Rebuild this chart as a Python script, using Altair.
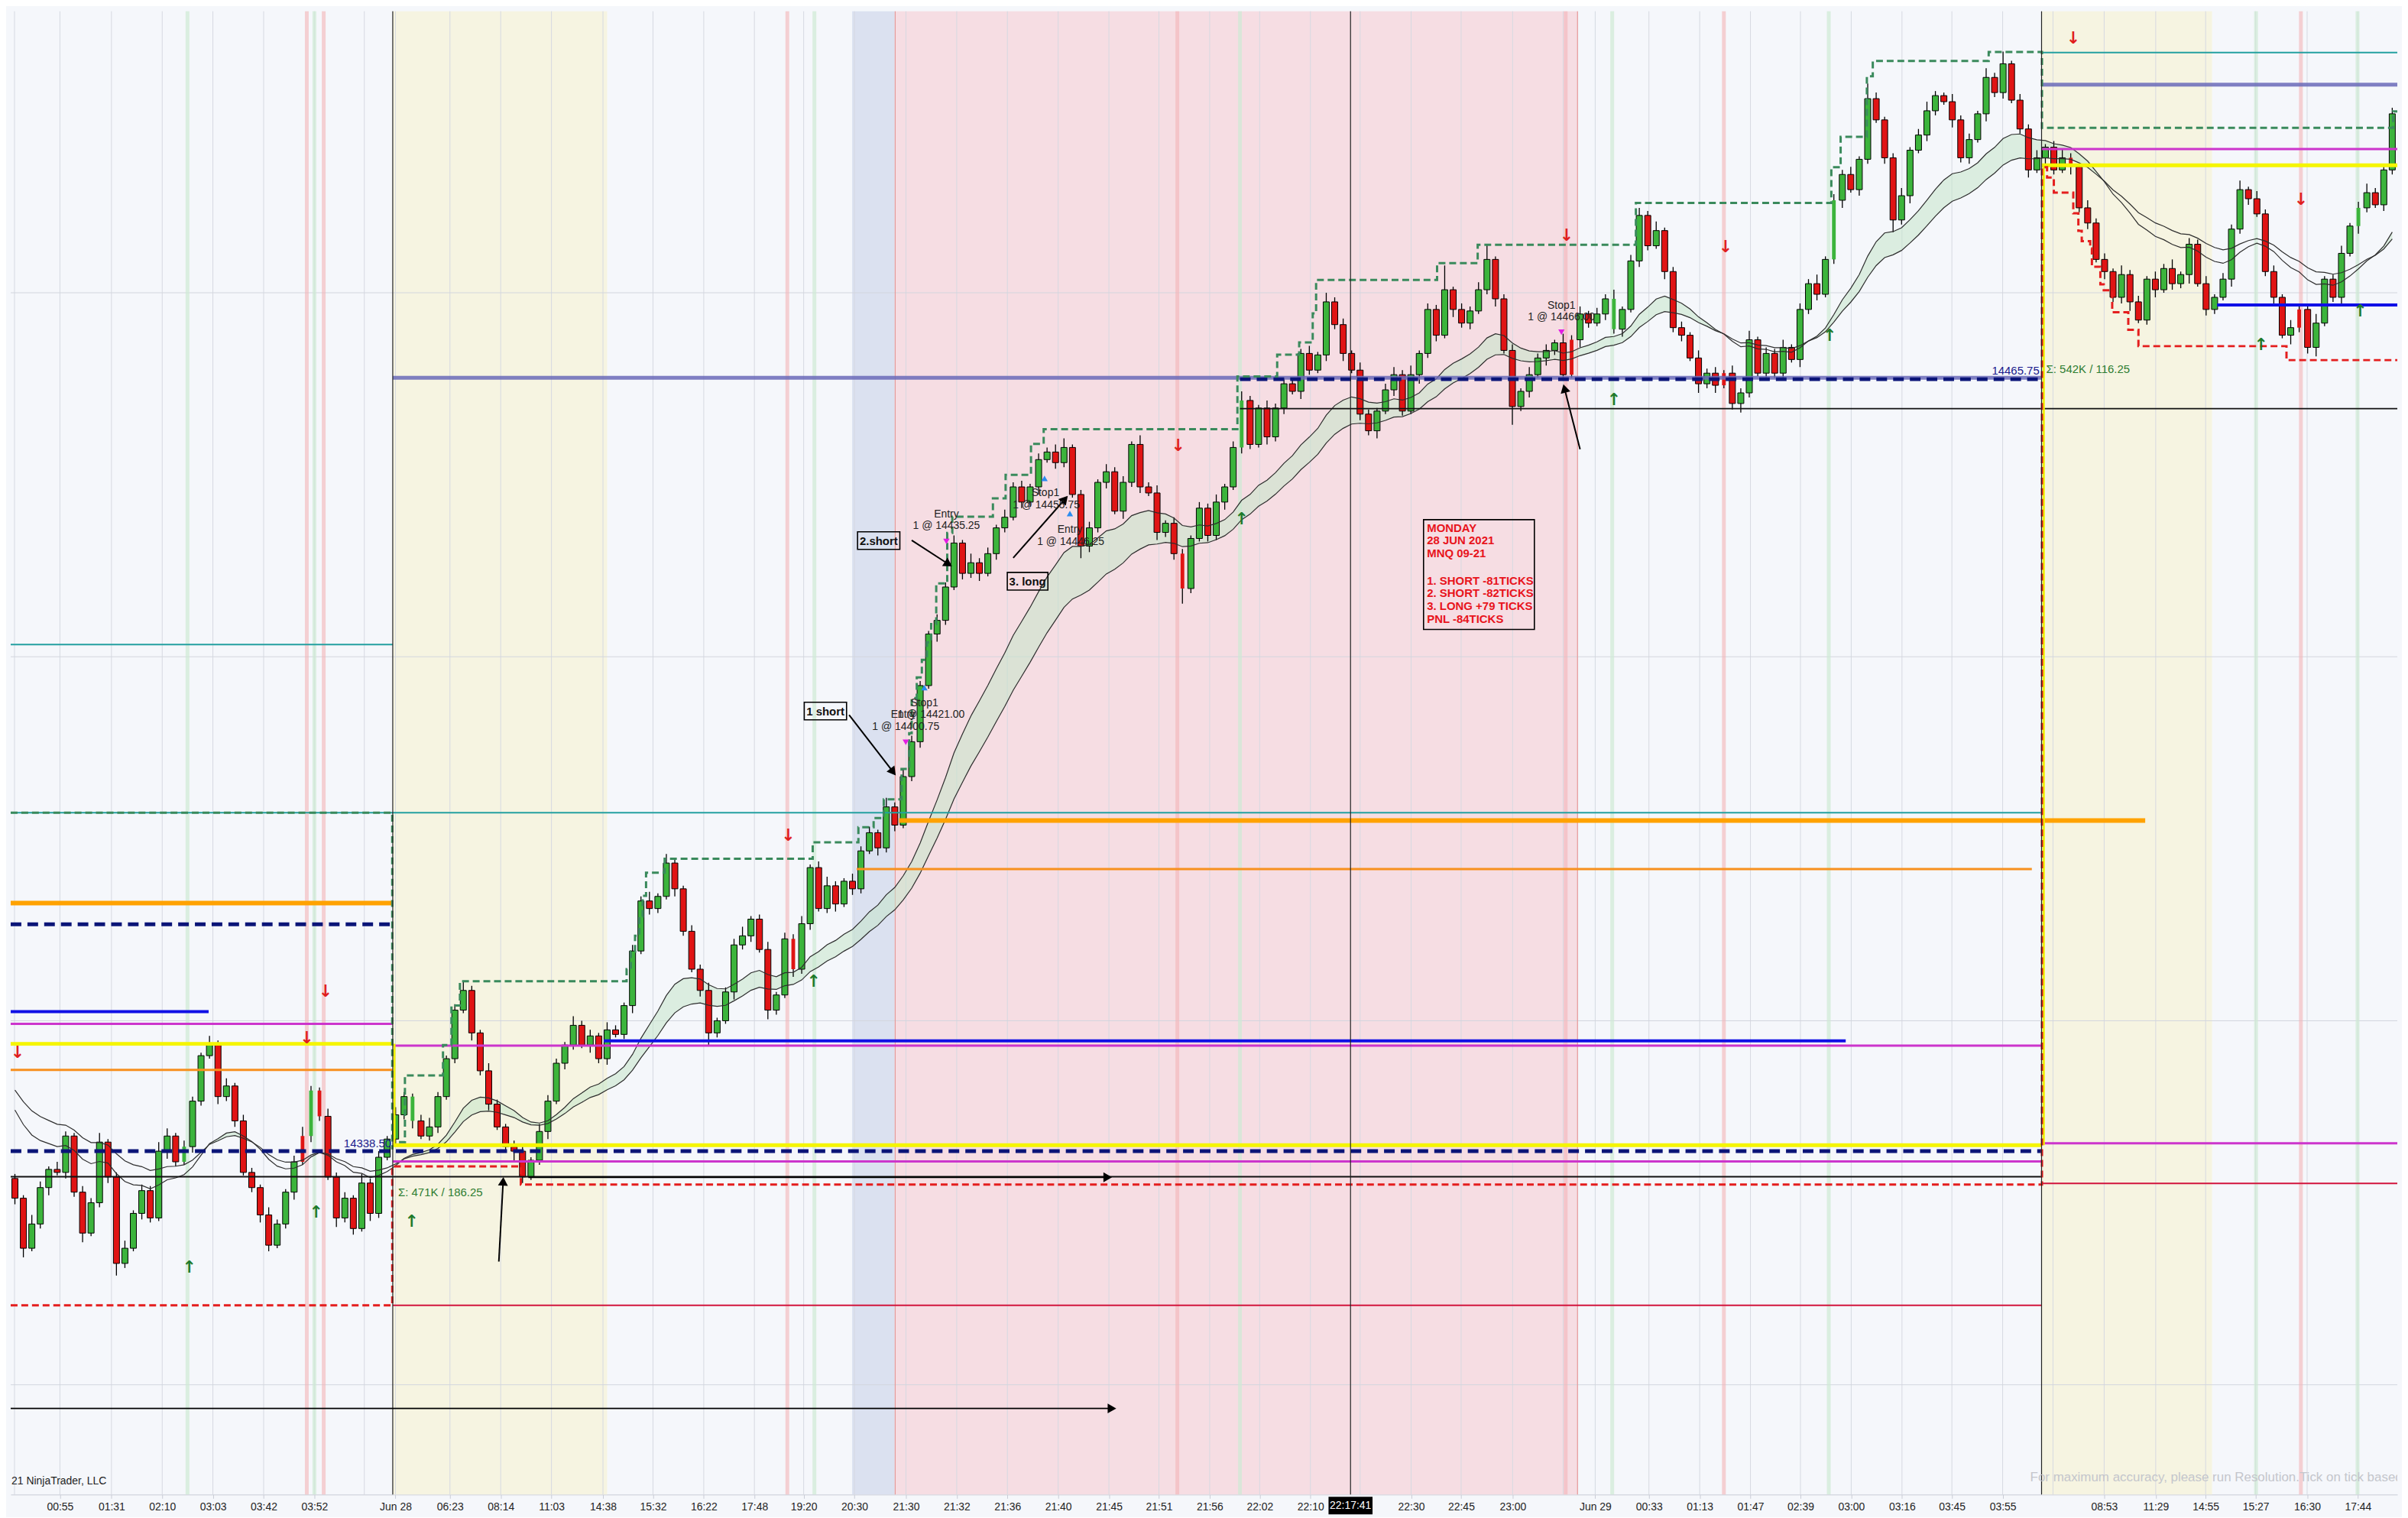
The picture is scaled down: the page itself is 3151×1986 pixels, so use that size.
import math

import altair as alt
import pandas as pd

# ---------------- MNQ 09-21 range bars, closes ----------------
CLOSE = [
    14330.75, 14322.5, 14326.5, 14332.5, 14335.5, 14335.0, 14341.0, 14331.75, 14325.0, 14330.0,
    14340.0, 14334.25, 14320.0, 14322.5, 14328.25, 14332.0, 14327.5, 14338.5, 14341.0, 14336.75,
    14339.25, 14346.75, 14354.25, 14356.0, 14347.5, 14349.25, 14343.5, 14335.0, 14332.5, 14328.0,
    14323.0, 14326.5, 14331.75, 14336.75, 14341.0, 14348.5, 14344.25, 14334.25, 14327.5, 14330.75,
    14325.75, 14333.25, 14328.25, 14337.5, 14340.5, 14344.5, 14347.5, 14343.5, 14341.0, 14342.5,
    14347.5, 14353.75, 14361.75, 14365.0, 14358.0, 14351.75, 14346.25, 14342.5, 14339.25, 14338.5,
    14334.25, 14337.0, 14341.75, 14346.75, 14353.0, 14356.0, 14359.25, 14356.0, 14357.5, 14353.75,
    14358.5, 14357.75, 14362.5, 14371.5, 14379.75, 14378.5, 14380.5, 14386.0, 14381.75, 14374.75,
    14368.5, 14365.0, 14358.0, 14360.0, 14364.75, 14372.5, 14374.0, 14376.75, 14371.75, 14361.75,
    14364.25, 14373.5, 14368.5, 14376.0, 14385.25, 14378.5, 14382.25, 14379.25, 14383.0, 14381.75,
    14388.0, 14391.0, 14388.5, 14395.25, 14392.25, 14400.25, 14406.0, 14415.25, 14423.75, 14426.0,
    14431.5, 14438.75, 14433.75, 14435.5, 14433.75, 14437.0, 14441.25, 14443.0, 14448.0, 14445.5,
    14448.0, 14452.5, 14453.75, 14452.0, 14454.5, 14446.75, 14438.25, 14441.25, 14448.75, 14450.5,
    14444.0, 14448.75, 14455.0, 14448.0, 14447.0, 14440.5, 14442.0, 14437.0, 14431.25, 14439.5,
    14444.5, 14440.0, 14445.5, 14448.0, 14454.5, 14462.25, 14455.0, 14461.0, 14456.25, 14461.0,
    14465.0, 14463.75, 14470.0, 14467.25, 14469.75, 14478.5, 14474.75, 14470.0, 14467.25, 14460.0,
    14457.25, 14460.5, 14464.0, 14466.5, 14460.5, 14466.5, 14470.0, 14477.25, 14473.0, 14480.5,
    14477.25, 14475.0, 14477.0, 14480.5, 14485.5, 14479.0, 14470.5, 14461.25, 14463.75, 14466.5,
    14469.25, 14470.5, 14471.75, 14466.5, 14472.25, 14476.5, 14475.0, 14476.5, 14479.0, 14474.0,
    14477.25, 14485.25, 14492.75, 14487.75, 14490.25, 14483.5, 14474.25, 14473.0, 14469.25, 14465.0,
    14466.75, 14464.75, 14466.75, 14461.75, 14463.5, 14472.25, 14466.75, 14470.0, 14466.75, 14471.0,
    14469.0, 14477.25, 14481.5, 14479.75, 14485.5, 14495.25, 14499.5, 14497.0, 14502.0, 14512.0,
    14508.5, 14502.25, 14492.0, 14496.0, 14503.5, 14506.0, 14510.0, 14512.5, 14511.5, 14508.5,
    14502.25, 14505.25, 14509.5, 14515.5, 14513.0, 14517.75, 14511.75, 14507.0, 14500.25, 14502.25,
    14504.0, 14500.25, 14502.25, 14500.75, 14494.0, 14491.5, 14485.5, 14483.5, 14479.25, 14483.0,
    14478.5, 14475.5, 14482.25, 14480.5, 14484.0, 14481.5, 14483.0, 14488.0, 14481.5, 14477.25,
    14479.25, 14482.25, 14490.5, 14497.0, 14495.5, 14493.0, 14483.5, 14479.25, 14473.0, 14474.25,
    14477.25, 14471.0, 14475.0, 14482.25, 14479.25, 14486.5, 14491.0, 14494.0, 14496.5, 14494.5,
    14500.25, 14509.5,
]
FIRST_OPEN = 14334.0
# wick length beyond the body, in ticks (0.25)
WICK_UP = [
    3, 2, 6, 4, 2, 5, 3, 2, 4, 3, 6, 2, 3, 5, 2, 4, 3, 6, 5, 2,
    4, 3, 2, 6, 3, 5, 2, 4, 3, 2, 5, 3, 2, 4, 6, 3, 2, 5, 3, 4,
    2, 6, 3, 4, 2, 5, 3, 2, 4, 6, 3, 2, 4, 6, 3, 2, 5, 3, 2, 4,
    3, 2, 5, 4, 3, 2, 6, 3, 4, 2, 5, 3, 2, 4, 3, 6, 2, 6, 3, 2,
    4, 3, 5, 2, 3, 4, 6, 2, 3, 5, 2, 4, 3, 5, 2, 4, 6, 3, 2, 5,
    3, 4, 2, 6, 3, 5, 4, 3, 2, 4, 3, 5, 2, 6, 3, 4, 2, 5, 3, 4,
    2, 4, 3, 5, 6, 2, 3, 4, 2, 5, 3, 4, 2, 6, 3, 5, 2, 4, 3, 2,
    4, 3, 5, 2, 4, 6, 3, 2, 5, 3, 4, 2, 3, 5, 2, 6, 3, 4, 2, 5,
    3, 2, 4, 5, 3, 6, 2, 4, 3, 16, 2, 4, 3, 5, 10, 2, 3, 4, 2, 5,
    3, 4, 2, 6, 3, 5, 2, 4, 3, 6, 2, 4, 5, 3, 6, 2, 3, 4, 2, 5,
    3, 4, 2, 5, 3, 6, 2, 4, 3, 5, 2, 4, 3, 6, 2, 4, 3, 5, 2, 10,
    4, 2, 3, 5, 2, 4, 6, 3, 2, 5, 3, 4, 2, 6, 3, 8, 2, 4, 3, 5,
    2, 4, 6, 3, 2, 5, 3, 4, 2, 6, 3, 4, 2, 5, 3, 6, 2, 4, 3, 5,
    2, 4, 3, 6, 2, 5, 3, 4, 2, 5, 3, 4, 6, 2, 3, 5, 2, 4, 6, 3,
    2, 4,
]
WICK_DN = [
    4, 6, 2, 3, 5, 2, 4, 3, 6, 2, 3, 4, 8, 3, 2, 4, 3, 2, 5, 3,
    2, 4, 3, 2, 5, 3, 4, 2, 3, 5, 4, 2, 3, 5, 2, 4, 3, 2, 6, 3,
    4, 2, 5, 3, 2, 4, 3, 5, 2, 3, 4, 2, 3, 2, 5, 3, 4, 2, 3, 6,
    4, 2, 3, 5, 2, 4, 3, 2, 5, 3, 4, 2, 3, 5, 2, 4, 3, 2, 5, 3,
    2, 4, 8, 3, 2, 5, 3, 4, 2, 6, 3, 2, 5, 3, 4, 2, 3, 5, 2, 4,
    3, 2, 5, 3, 4, 2, 3, 4, 2, 5, 3, 2, 4, 3, 5, 2, 4, 3, 2, 4,
    3, 5, 2, 4, 3, 2, 8, 4, 3, 4, 2, 5, 3, 4, 2, 5, 3, 4, 10, 3,
    2, 4, 3, 5, 2, 4, 3, 2, 5, 3, 4, 2, 5, 3, 2, 4, 3, 5, 2, 4,
    3, 5, 2, 4, 3, 2, 6, 3, 4, 2, 5, 3, 4, 2, 3, 5, 2, 12, 3, 4,
    2, 5, 3, 4, 2, 5, 3, 2, 4, 3, 5, 2, 4, 3, 2, 5, 3, 4, 2, 6,
    3, 5, 2, 4, 6, 3, 2, 5, 3, 4, 2, 5, 3, 4, 2, 3, 5, 2, 4, 3,
    2, 4, 8, 3, 5, 2, 4, 3, 2, 5, 3, 4, 2, 5, 3, 4, 2, 3, 5, 2,
    4, 3, 2, 5, 3, 4, 2, 5, 3, 4, 6, 2, 3, 5, 2, 4, 3, 6, 2, 4,
    3, 2, 5, 3, 4, 2, 3, 5, 2, 6, 3, 4, 6, 2, 3, 4, 2, 5, 3, 2,
    4, 3,
]
TICK = 0.25
BLUE_BARS = [20, 35, 47, 145, 189, 215, 277]
ORANGE_BARS = [34, 36, 92, 138, 184, 202, 243, 270]

# two moving averages: value before the first bar, and span
MA_SEED = [14347.0, 14350.0]
MA_SPAN = [18, 26]

# time axis (bar positions of the labels)
TICK_POS = [5.32, 11.41, 17.41, 23.40, 29.40, 35.40, 44.98, 51.42, 57.42, 63.42, 69.51,
            75.42, 81.42, 87.41, 93.23, 99.23, 105.32, 111.32, 117.31, 123.31, 129.31,
            135.22, 141.22, 147.13, 153.13, 165.03, 170.94, 177.03, 186.79, 193.14,
            199.14, 205.14, 211.05, 217.05, 223.05, 228.95, 234.95, 246.95, 253.04,
            258.94, 264.85, 270.94, 276.94]
TICK_LABELS = ["00:55", "01:31", "02:10", "03:03", "03:42", "03:52", "Jun 28", "06:23",
               "08:14", "11:03", "14:38", "15:32", "16:22", "17:48", "19:20", "20:30",
               "21:30", "21:32", "21:36", "21:40", "21:45", "21:51", "21:56", "22:02",
               "22:10", "22:30", "22:45", "23:00", "Jun 29", "00:33", "01:13", "01:47",
               "02:39", "03:00", "03:16", "03:45", "03:55", "08:53", "11:29", "14:55",
               "15:27", "16:30", "17:44"]
GRID_EXTRA = [-0.05, 41.3, 159.0, 183.0, 240.9]
PRICE_GRID = [14300, 14360, 14420, 14480]
CROSSHAIR_X = 157.87
CROSSHAIR_LABEL = "22:17:41"

# shaded sessions / trade window (bar ranges)
CREAM_ZONES = [(44.66, 70.0), (239.55, 259.7)]
BLUE_ZONES = [(98.96, 104.0)]
PINK_ZONES = [(104.0, 184.75)]
SESSION_X = [44.66, 239.55]
SELL_LINES_X = [34.5, 36.5, 91.3, 137.4, 183.3, 202.0, 270.2]
BUY_LINES_X = [20.4, 35.4, 94.5, 144.8, 188.8, 214.4, 264.9, 276.9]
DOWN_ARROWS = [(0.3, 14354.7), (34.5, 14357.2), (36.7, 14364.8), (91.4, 14390.5),
               (137.5, 14454.8), (183.4, 14489.4), (202.2, 14487.6), (243.3, 14521.9),
               (270.2, 14495.4)]
UP_ARROWS = [(20.6, 14319.4), (35.6, 14328.4), (46.9, 14326.9), (94.4, 14366.5),
             (145.0, 14442.7), (189.0, 14462.4), (214.5, 14472.9), (265.5, 14471.4),
             (277.2, 14477.0)]

# horizontal levels: (price, from bar, to bar)
TEAL_LV = [(14422.0, -0.5, 44.66), (14394.3, -0.5, 239.55), (14519.6, 239.55, 281.6)]
ORANGE_THICK_LV = [(14393.0, 104.5, 251.8), (14379.4, -0.5, 44.66)]
ORANGE_LV = [(14385.0, 99.5, 238.4), (14351.9, -0.5, 44.66)]
NAVY_DASH_LV = [(14375.9, -0.5, 44.66), (14338.5, -0.5, 239.55), (14465.75, 144.8, 239.55)]
BLUE_LV = [(14361.5, -0.5, 22.9), (14356.7, 69.6, 216.4), (14478.0, 260.3, 281.6)]
MAGENTA_LV = [(14359.5, -0.5, 44.66), (14355.9, 44.66, 239.55), (14336.8, 44.66, 239.55),
              (14339.8, 239.55, 281.6), (14503.7, 239.55, 281.6)]
YELLOW_LV = [(14356.2, -0.5, 44.66), (14339.5, 44.66, 239.55), (14501.0, 239.55, 281.6)]
BLACK_LV = [(14334.3, -0.5, 239.55), (14460.9, 144.8, 281.6)]
CRIMSON_LV = [(14313.1, 44.66, 239.55), (14333.2, 239.55, 281.6)]
SLATE_LV = [(14466.0, 44.66, 239.55), (14514.3, 239.55, 281.6)]
YELLOW_VERT = [(44.85, 14339.5, 14356.2), (239.8, 14339.5, 14501.0)]

# trailing swing steps: (bar where the level starts, level)
GREEN_STEPS = [
    [(-0.5, 14394.3), (44.6, 14338.8)],
    [(45.4, 14340.0), (46.1, 14351.0), (50.6, 14356.0), (51.6, 14362.5), (52.6, 14366.5),
     (72.3, 14368.5), (72.8, 14371.4), (73.3, 14374.0), (73.8, 14377.2), (74.2, 14380.6),
     (74.6, 14384.4), (76.8, 14386.7), (94.3, 14389.4), (99.7, 14391.9), (101.5, 14393.4),
     (102.7, 14396.5), (104.8, 14401.5), (105.7, 14407.4), (106.0, 14413.2), (106.6, 14416.6),
     (107.2, 14419.5), (107.8, 14422.4), (108.3, 14425.4), (108.9, 14432.1), (110.2, 14440.4),
     (110.8, 14443.1), (115.6, 14446.1), (117.1, 14450.0), (120.1, 14455.1), (121.6, 14457.5),
     (144.5, 14466.2), (149.2, 14469.8), (151.8, 14471.8), (153.4, 14476.6), (153.8, 14482.1),
     (168.1, 14484.9), (172.9, 14487.9), (191.6, 14494.8), (214.7, 14500.7), (215.8, 14505.7),
     (218.9, 14515.7), (219.6, 14518.2), (233.3, 14519.7), (239.6, 14507.2), (281.1, 14509.9),
     (281.6, 14509.9)],
]
RED_STEPS = [
    [(-0.5, 14313.1), (44.6, 14336.0), (59.8, 14333.0), (239.6, 14500.7), (240.2, 14499.0),
     (241.0, 14496.5), (243.3, 14493.1), (243.9, 14490.2), (244.3, 14488.5), (245.3, 14487.3),
     (245.5, 14484.3), (246.5, 14481.4), (246.9, 14480.4), (247.9, 14476.8), (249.8, 14473.9),
     (251.0, 14471.2), (268.5, 14468.9), (281.6, 14468.9)],
]

# trade annotations
ARROWS = [(98.6, 14410.4, 103.7, 14401.2), (106.0, 14439.2, 110.2, 14435.4),
          (118.0, 14436.3, 124.0, 14445.8), (57.2, 14320.3, 57.7, 14333.3),
          (185.0, 14454.2, 183.2, 14464.0), (60.7, 14334.2, 129.0, 14334.2),
          (-0.5, 14296.1, 129.5, 14296.1)]
TRADE_TEXT = [(107.5, 14412.3, "Stop1"), (108.3, 14410.4, "1 @ 14421.00"),
              (105.0, 14410.4, "Entry"), (105.3, 14408.4, "1 @ 14400.75"),
              (110.1, 14443.5, "Entry"), (110.1, 14441.6, "1 @ 14435.25"),
              (121.8, 14447.0, "Stop1"), (121.9, 14445.0, "1 @ 14455.75"),
              (124.7, 14440.9, "Entry"), (124.8, 14438.9, "1 @ 14446.25"),
              (182.8, 14477.9, "Stop1"), (182.8, 14476.0, "1 @ 14466.00")]
BOX_TEXT = [(95.8, 14411.0, "1 short"), (102.1, 14439.1, "2.short"), (119.7, 14432.4, "3. long")]
BOXES = [(93.3, 98.3, 14409.6, 14412.5), (99.6, 104.6, 14437.7, 14440.6),
         (117.3, 122.1, 14431.0, 14433.9)]
ENTRY_MARKS = [(105.3, 14405.9), (110.1, 14439.0), (182.8, 14473.5)]
EXIT_MARKS = [(107.5, 14414.9), (121.7, 14449.4), (124.7, 14443.6)]
NOTE_BOX = (166.5, 179.6, 14424.5, 14442.6)
NOTE_HEAD = ["MONDAY", "28 JUN 2021", "MNQ 09-21"]
NOTE_BODY = ["1. SHORT -81TICKS", "2. SHORT -82TICKS", "3. LONG +79 TICKS", "PNL -84TICKS"]
NOTE_TOPS = [14442.1, 14433.4]
PRICE_TAGS_RIGHT = [(44.5, 14339.8, "14338.50"), (239.3, 14467.2, "14465.75")]
SIGMA_TAGS = [(45.3, 14331.7, "\u03a3: 471K / 186.25"), (240.1, 14467.4, "\u03a3: 542K / 116.25")]

# ---------------- layout ----------------
W, H = 3135, 1948
X_DOM = [-0.5, 281.6]
Y_DOM = [14281.9, 14526.4]
PXB = W / (X_DOM[1] - X_DOM[0])
PXP = H / (Y_DOM[1] - Y_DOM[0])
FONT = "Liberation Sans"

XS = alt.Scale(domain=X_DOM, nice=False, zero=False)
YS = alt.Scale(domain=Y_DOM, nice=False, zero=False)
label_js = "[" + ",".join(f"'{s}'" for s in TICK_LABELS) + "]"
pos_js = "[" + ",".join(repr(v) for v in TICK_POS) + "]"
XAX = alt.Axis(values=TICK_POS, labelExpr=f"{label_js}[indexof({pos_js}, datum.value)]",
               title=None, grid=False, labelOverlap=False, domainColor="#c9ccd6",
               tickColor="#c9ccd6", tickSize=5, labelPadding=4, labelFont=FONT,
               labelFontSize=14, labelColor="#1e1e1e")


def X(f):
    return alt.X(f"{f}:Q", scale=XS, axis=XAX)


def Y(f):
    return alt.Y(f"{f}:Q", scale=YS, axis=None)


def frame(rows, cols):
    return pd.DataFrame(rows, columns=cols)


def zones(rows, color):
    return alt.Chart(frame(rows, ["a", "b"])).mark_rect(color=color).encode(
        x=X("a"), x2="b", y=alt.value(0), y2=alt.value(H))


def vlines(xs, color, width, opacity=1.0):
    return alt.Chart(pd.DataFrame({"a": xs})).mark_rule(
        color=color, strokeWidth=width, opacity=opacity).encode(x=X("a"))


def hlines(rows, color, width, dash=None, opacity=1.0):
    kw = dict(color=color, strokeWidth=width, opacity=opacity)
    if dash:
        kw["strokeDash"] = dash
    return alt.Chart(frame(rows, ["p", "a", "b"])).mark_rule(**kw).encode(
        x=X("a"), x2="b", y=Y("p"))


def steps(segs, color):
    rows = [(k, j, x, p) for k, seg in enumerate(segs) for j, (x, p) in enumerate(seg)]
    return alt.Chart(frame(rows, ["seg", "j", "x", "p"])).mark_line(
        interpolate="step-after", color=color, strokeWidth=3, strokeDash=[9, 5]).encode(
        x=X("x"), y=Y("p"), detail="seg:N", order="j:Q")


# candles
opens = [FIRST_OPEN] + CLOSE[:-1]
rows = []
for i, (o, c, u, d) in enumerate(zip(opens, CLOSE, WICK_UP, WICK_DN)):
    kind = "up" if c >= o else "down"
    if i in BLUE_BARS:
        kind = "blue"
    if i in ORANGE_BARS:
        kind = "orange"
    half = 0.22 if kind in ("blue", "orange") else 0.36
    rows.append(dict(i=i, l=i - half, r=i + half, o=o, c=c,
                     hi=max(o, c) + u * TICK, lo=min(o, c) - d * TICK, kind=kind))
bars = pd.DataFrame(rows)
plain = bars[bars.kind.isin(["up", "down"])]
marked = bars[bars.kind.isin(["blue", "orange"])]

wicks = alt.Chart(bars).mark_rule(color="black", strokeWidth=1.3).encode(
    x=X("i"), y=Y("lo"), y2="hi")
bodies = alt.Chart(plain).mark_rect(stroke="black", strokeWidth=1).encode(
    x=X("l"), x2="r", y=Y("o"), y2="c",
    fill=alt.Fill("kind:N", legend=None, scale=alt.Scale(
        domain=["up", "down"], range=["#3cb43c", "#e01414"])))
marked_bodies = alt.Chart(marked).mark_rect().encode(
    x=X("l"), x2="r", y=Y("o"), y2="c",
    fill=alt.Fill("kind:N", legend=None, scale=alt.Scale(
        domain=["blue", "orange"], range=["#1414f0", "#ffa500"])))

# moving averages and the band between them
fast, slow = [], []
f, s = MA_SEED
af, asl = 2 / (MA_SPAN[0] + 1), 2 / (MA_SPAN[1] + 1)
for c in CLOSE:
    f += af * (c - f)
    s += asl * (c - s)
    fast.append(f)
    slow.append(s)
ma = pd.DataFrame({"i": range(len(CLOSE)), "fast": fast, "slow": slow})
ma["g1"] = ma[["fast", "slow"]].max(axis=1).where(ma.fast >= ma.slow, ma.slow)
ma["r1"] = ma[["fast", "slow"]].min(axis=1).where(ma.fast < ma.slow, ma.fast)
band_up = alt.Chart(ma).mark_area(color="#c4e6ca", opacity=0.55).encode(
    x=X("i"), y=Y("slow"), y2="g1")
band_dn = alt.Chart(ma).mark_area(color="#f2a3ad", opacity=0.55).encode(
    x=X("i"), y=Y("fast"), y2="r1")
ma_fast = alt.Chart(ma).mark_line(color="#2d2d2d", strokeWidth=1.2).encode(x=X("i"), y=Y("fast"))
ma_slow = alt.Chart(ma).mark_line(color="#2d2d2d", strokeWidth=1.2).encode(x=X("i"), y=Y("slow"))

# arrows
arr = frame(ARROWS, ["x1", "y1", "x2", "y2"])
arr["ang"] = [math.degrees(math.atan2((r.x2 - r.x1) * PXB, (r.y2 - r.y1) * PXP)) % 360
              for r in arr.itertuples()]
arrow_lines = alt.Chart(arr).mark_rule(color="black", strokeWidth=2).encode(
    x=X("x1"), x2="x2", y=Y("y1"), y2="y2")
arrow_heads = alt.Chart(arr).mark_point(shape="triangle", filled=True, size=170,
                                        color="black", opacity=1).encode(
    x=X("x2"), y=Y("y2"), angle=alt.Angle("ang:Q", scale=None))


def glyphs(rows, glyph, color):
    df = frame(rows, ["x", "p"])
    df["t"] = glyph
    return alt.Chart(df).mark_text(font="DejaVu Sans", fontSize=22, fontWeight="bold",
                                   color=color).encode(x=X("x"), y=Y("p"), text="t:N")


def texts(rows, **kw):
    return alt.Chart(frame(rows, ["x", "p", "t"])).mark_text(**kw).encode(
        x=X("x"), y=Y("p"), text="t:N")


price_grid = alt.Chart(pd.DataFrame({"p": PRICE_GRID})).mark_rule(
    color="#d3d6de", strokeWidth=1).encode(y=Y("p"))

boxes = alt.Chart(frame(BOXES, ["a", "b", "p1", "p2"])).mark_rect(
    fillOpacity=0, stroke="black", strokeWidth=1.6).encode(x=X("a"), x2="b", y=Y("p1"), y2="p2")
note_box = alt.Chart(frame([NOTE_BOX], ["a", "b", "p1", "p2"])).mark_rect(
    fillOpacity=0, stroke="black", strokeWidth=1.6).encode(x=X("a"), x2="b", y=Y("p1"), y2="p2")
note_rows = [(NOTE_BOX[0] + 0.4, NOTE_TOPS[0], "\n".join(NOTE_HEAD)),
             (NOTE_BOX[0] + 0.4, NOTE_TOPS[1], "\n".join(NOTE_BODY))]
note_text = texts(note_rows, align="left", baseline="top", font=FONT, fontSize=15,
                  fontWeight="bold", color="#e8141c", lineBreak="\n", lineHeight=16.7)

entry_marks = alt.Chart(frame(ENTRY_MARKS, ["x", "p"])).mark_point(
    shape="triangle-down", filled=True, size=70, color="#e31ee3", opacity=1).encode(x=X("x"), y=Y("p"))
exit_marks = alt.Chart(frame(EXIT_MARKS, ["x", "p"])).mark_point(
    shape="triangle-up", filled=True, size=70, color="#2b8cf0", opacity=1).encode(x=X("x"), y=Y("p"))

footer_left = texts([(-0.4, 14283.2, "21 NinjaTrader, LLC")], align="left", baseline="bottom",
                    font=FONT, fontSize=14, color="#1e1e1e")
footer_right = texts([(238.2, 14283.6, "For maximum accuracy, please run Resolution.Tick on tick based charts")],
                     align="left", baseline="bottom", font=FONT, fontSize=17, color="#c4c6cc", clip=True)

cross_box = alt.Chart(frame([(CROSSHAIR_X - 2.6, CROSSHAIR_X + 2.6)], ["a", "b"])).mark_rect(
    color="black").encode(x=X("a"), x2="b", y=alt.value(H + 3), y2=alt.value(H + 26))
cross_text = alt.Chart(frame([(CROSSHAIR_X, CROSSHAIR_LABEL)], ["x", "t"])).mark_text(
    font=FONT, fontSize=14, color="white", baseline="middle").encode(
    x=X("x"), y=alt.value(H + 15), text="t:N")

yellow_vert = alt.Chart(frame(YELLOW_VERT, ["x", "p1", "p2"])).mark_rule(
    color="#f0f000", strokeWidth=3).encode(x=X("x"), y=Y("p1"), y2="p2")

layers = [
    zones(CREAM_ZONES, "#f6f4e1"),
    zones(BLUE_ZONES, "#dbe1f0"),
    zones(PINK_ZONES, "#f6dde3"),
    vlines(TICK_POS + GRID_EXTRA, "#d6d9e1", 1),
    price_grid,
    vlines(SELL_LINES_X, "#f4b4b8", 5, 0.6),
    vlines(BUY_LINES_X, "#cfe9d4", 5, 0.7),
    vlines([104.05, 184.7], "#e59a9a", 1.2),
    band_up,
    band_dn,
    wicks,
    bodies,
    marked_bodies,
    ma_fast,
    ma_slow,
    hlines(TEAL_LV, "#23a0a0", 2),
    hlines(SLATE_LV, "#6a6ab8", 5, opacity=0.85),
    hlines(ORANGE_THICK_LV, "#ffa200", 6),
    hlines(ORANGE_LV, "#f7901e", 3),
    hlines(BLUE_LV, "#1010e6", 4),
    hlines(MAGENTA_LV, "#cc35cc", 3),
    hlines(YELLOW_LV, "#f5f500", 5),
    hlines(BLACK_LV, "#111111", 2),
    hlines(CRIMSON_LV, "#d2143c", 2),
    hlines(NAVY_DASH_LV, "#0b1578", 5, dash=[14, 8]),
    yellow_vert,
    steps(RED_STEPS, "#e41e1e"),
    steps(GREEN_STEPS, "#3a8a5c"),
    vlines(SESSION_X, "#222222", 1.2),
    vlines([CROSSHAIR_X], "#222222", 1.2),
    glyphs(DOWN_ARROWS, "\u2193", "#e01e1e"),
    glyphs(UP_ARROWS, "\u2191", "#1f7a2a"),
    entry_marks,
    exit_marks,
    arrow_lines,
    arrow_heads,
    boxes,
    texts(BOX_TEXT, font=FONT, fontSize=15, fontWeight="bold", color="#111111"),
    texts(TRADE_TEXT, font=FONT, fontSize=14, color="#222222"),
    texts(PRICE_TAGS_RIGHT, align="right", font=FONT, fontSize=15, color="#1a1a8c"),
    texts(SIGMA_TAGS, align="left", font=FONT, fontSize=15, color="#2e7d32"),
    note_box,
    note_text,
    footer_left,
    footer_right,
    cross_box,
    cross_text,
]

chart = alt.layer(*layers).properties(
    width=W, height=H, padding=0, background="#f5f7fb"
).configure_view(stroke=None)

chart.save("out.html", embed_options={"renderer": "svg", "actions": False})
